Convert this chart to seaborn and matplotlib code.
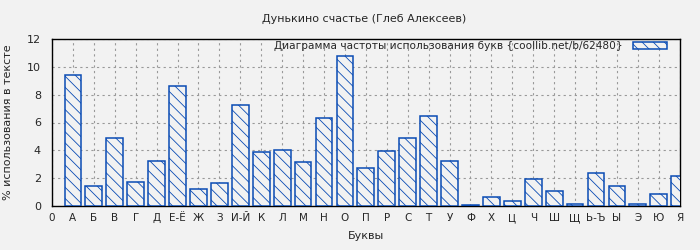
import matplotlib
matplotlib.use("Agg")
import matplotlib.pyplot as plt
import seaborn as sns
import pandas as pd

letters = ["А", "Б", "В", "Г", "Д", "Е-Ё", "Ж", "З", "И-Й", "К", "Л", "М", "Н", "О", "П",
           "Р", "С", "Т", "У", "Ф", "Х", "Ц", "Ч", "Ш", "Щ", "Ь-Ъ", "Ы", "Э", "Ю", "Я"]
values = [9.42, 1.44, 4.87, 1.70, 3.20, 8.60, 1.20, 1.63, 7.24, 3.86, 4.00, 3.14, 6.30, 10.79, 2.71,
          3.93, 4.87, 6.45, 3.20, 0.05, 0.62, 0.34, 1.92, 1.06, 0.12, 2.35, 1.44, 0.12, 0.84, 2.14]
tick_labels = ["0"] + letters
title = "Дунькино счастье (Глеб Алексеев)"
legend_label = "Диаграмма частоты использования букв {coollib.net/b/62480}"

sns.set_style("ticks")
plt.rcParams['font.family'] = ['DejaVu Sans']
plt.rcParams['hatch.linewidth'] = 0.6

bg = "#f2f2f2"
blue = "#0a4bb4"
hatch = "\\\\\\"

df = pd.DataFrame({"letter": letters, "value": values})

fig = plt.figure(figsize=(7, 2.5), dpi=100, facecolor=bg)
ax = fig.add_axes([0.0743, 0.176, 0.8967, 0.668])
ax.set_facecolor(bg)

sns.barplot(data=df, x="letter", y="value", order=tick_labels, ax=ax,
            color=bg, edgecolor=blue, linewidth=1.1, width=0.8,
            label=legend_label, zorder=3)
for p in ax.patches:
    p.set_hatch(hatch)
    p.set_edgecolor(blue)
    p.set_facecolor(bg)

ax.set_xlim(0, 30)
ax.set_ylim(0, 12)
ax.set_yticks([0, 2, 4, 6, 8, 10, 12])
ax.set_xticks(range(len(tick_labels)))
ax.set_xticklabels(tick_labels, fontsize=7.5)
ax.tick_params(axis='y', labelsize=8, length=0, pad=8)
ax.tick_params(axis='x', length=0, pad=5)
ax.grid(True, color="#999999", linestyle=(0, (2, 3)), linewidth=0.8, zorder=0)
ax.set_axisbelow(True)
for s in ax.spines.values():
    s.set_visible(True)
    s.set_color("black")
    s.set_linewidth(1.0)

ax.set_xlabel("Буквы", fontsize=8, labelpad=6)
ax.set_ylabel("% использования в тексте", fontsize=8, labelpad=10)
fig.text(0.52, 0.925, title, ha="center", va="center", fontsize=8)

leg = ax.legend(loc="upper right", bbox_to_anchor=(0.985, 1.005), frameon=False, fontsize=7.6,
                markerfirst=False, handlelength=3.2, handleheight=0.6, borderaxespad=0.0,
                borderpad=0.3, handletextpad=1.0)
for h in leg.legend_handles:
    h.set_hatch(hatch)
    h.set_edgecolor(blue)
    h.set_facecolor(bg)

fig.savefig("out.png", dpi=100, facecolor=bg)
